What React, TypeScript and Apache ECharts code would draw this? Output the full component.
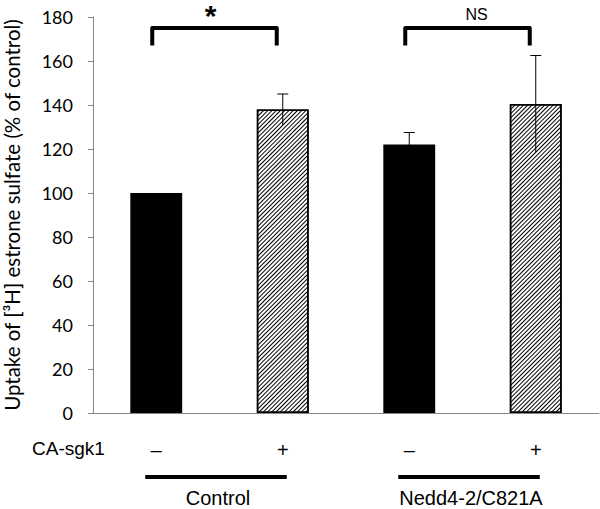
import React, { useEffect, useRef } from "react";
import * as echarts from "echarts";

const tickLabels = ["–", "+", "–", "+"];
const meanValues = [100, 138, 122, 140.5];
const errorValues = [0, 7, 5.5, 22];
const barKinds = ["solid", "hatched", "solid", "hatched"];
const groupNames = ["Control", "Nedd4-2/C821A"];
const groupSpans = [
  [0, 1],
  [2, 3],
];
const comparisonPairs = [
  [0, 1],
  [2, 3],
];
const comparisonLabels = ["*", "NS"];
const bracketTop = 175;
const bracketLegEnd = 167;
const yMin = 0;
const yMax = 180;
const yStep = 20;
const rowLabel = "CA-sgk1";
const yTitle = "Uptake of [³H] estrone sulfate (% of control)";

export default function App() {
  const ref = useRef<HTMLDivElement>(null);
  useEffect(() => {
    if (!ref.current) return;
    const chart = echarts.init(ref.current, null, { renderer: "svg" });
    const hatch = {
      symbol: "rect",
      symbolSize: 1,
      dashArrayX: [1, 0],
      dashArrayY: [1, 2],
      rotation: -Math.PI / 4,
      color: "#000",
      backgroundColor: "#fff",
    };
    const option: any = {
      animation: false,
      backgroundColor: "#fff",
      grid: {
        left: 93,
        right: 1,
        top: 17,
        bottom: 96,
        containLabel: false,
        outerBoundsMode: "none",
      },
      graphic: [
        {
          type: "text",
          left: 32,
          top: 439,
          style: { text: rowLabel, font: "19px 'Liberation Sans'", fill: "#000" },
        },
      ],
      xAxis: {
        type: "category",
        data: tickLabels,
        axisLine: { lineStyle: { color: "#868686", width: 1 } },
        axisTick: { show: false },
        axisLabel: {
          margin: 27,
          color: "#000",
          fontFamily: "Liberation Sans",
          fontSize: 20,
        },
      },
      yAxis: {
        type: "value",
        min: yMin,
        max: yMax,
        interval: yStep,
        name: yTitle,
        nameLocation: "middle",
        nameGap: 71,
        nameTextStyle: { fontFamily: "Lato", fontSize: 20.5, color: "#000" },
        axisLine: { show: true, lineStyle: { color: "#868686" } },
        axisTick: { show: true, length: 5, lineStyle: { color: "#868686" } },
        axisLabel: { margin: 20, color: "#000", fontFamily: "Lato", fontSize: 18 },
        splitLine: { show: false },
      },
      series: [
        {
          type: "bar",
          barWidth: "41%",
          data: meanValues.map((v, i) => ({
            value: v,
            itemStyle:
              barKinds[i] === "solid"
                ? { color: "#000" }
                : { color: "#fff", borderColor: "#000", borderWidth: 1.5, decal: hatch },
          })),
          z: 2,
        },
        {
          type: "custom",
          z: 5,
          data: meanValues.map((v, i) => [i, v, errorValues[i]]),
          renderItem: (params: any, api: any) => {
            const i = api.value(0);
            const v = api.value(1);
            const e = api.value(2);
            if (!e) return null;
            const top = api.coord([i, v + e]);
            const bot = api.coord([i, v - e]);
            const st = { stroke: "#000", lineWidth: 1 };
            return {
              type: "group",
              children: [
                { type: "line", shape: { x1: top[0], y1: top[1], x2: bot[0], y2: bot[1] }, style: st },
                { type: "line", shape: { x1: top[0] - 5.5, y1: top[1], x2: top[0] + 5.5, y2: top[1] }, style: st },
              ],
            };
          },
        },
        {
          type: "custom",
          z: 5,
          data: comparisonPairs.map((p, i) => [p[0], bracketTop, p[1], bracketLegEnd, i]),
          renderItem: (params: any, api: any) => {
            const a = api.value(0);
            const b = api.value(2);
            const idx = api.value(4);
            const pa = api.coord([a, api.value(1)]);
            const pb = api.coord([b, api.value(1)]);
            const leg = api.coord([a, api.value(3)]);
            const x1 = pa[0] - 4;
            const x2 = pb[0] - 6;
            const yT = pa[1];
            const yL = leg[1];
            const label = comparisonLabels[idx];
            const isStar = label === "*";
            return {
              type: "group",
              children: [
                {
                  type: "polyline",
                  shape: { points: [[x1, yL], [x1, yT], [x2, yT], [x2, yL]] },
                  style: { stroke: "#000", lineWidth: 4, fill: "none", lineJoin: "round" },
                },
                {
                  type: "text",
                  x: (x1 + x2) / 2 + (isStar ? -4 : 9),
                  y: isStar ? 0 : yT - 14,
                  style: {
                    text: label,
                    font: isStar ? "bold 30px 'Liberation Sans'" : "16px 'Liberation Sans'",
                    fill: "#000",
                    align: "center",
                    verticalAlign: isStar ? "top" : "middle",
                  },
                },
              ],
            };
          },
        },
        {
          type: "custom",
          z: 5,
          data: groupSpans.map((p, i) => [p[0], 0, p[1], i]),
          renderItem: (params: any, api: any) => {
            const a = api.coord([api.value(0), 0]);
            const b = api.coord([api.value(2), 0]);
            const idx = api.value(3);
            const x1 = a[0] - 11;
            const x2 = b[0] + 4;
            const y = a[1] + 64;
            return {
              type: "group",
              children: [
                { type: "line", shape: { x1, y1: y, x2, y2: y }, style: { stroke: "#000", lineWidth: 4 } },
                {
                  type: "text",
                  x: (x1 + x2) / 2 + 2,
                  y: y + 21,
                  style: {
                    text: groupNames[idx],
                    font: "20px 'Liberation Sans'",
                    fill: "#000",
                    align: "center",
                    verticalAlign: "middle",
                  },
                },
              ],
            };
          },
        },
      ],
    };
    chart.setOption(option);
    return () => chart.dispose();
  }, []);
  return (
    <div
      ref={ref}
      style={{ position: "fixed", left: 0, top: 0, width: 600, height: 509, background: "#fff" }}
    />
  );
}
